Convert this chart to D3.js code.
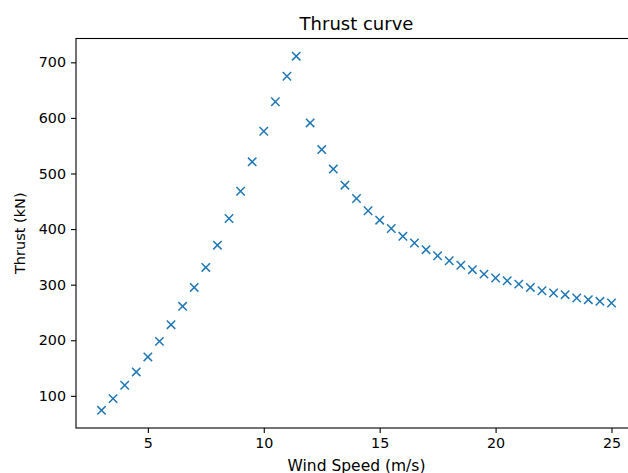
<!DOCTYPE html>
<html>
<head>
<meta charset="utf-8">
<script src="https://cdn.jsdelivr.net/npm/d3@7"></script>
<style>
  html, body { margin: 0; padding: 0; background: #fff; }
  svg { display: block; }
  text { font-family: "DejaVu Sans", sans-serif; fill: #000; }
</style>
</head>
<body>
<svg id="chart" width="628" height="473"></svg>
<script>
// Data
const windSpeed = [3, 3.5, 4, 4.5, 5, 5.5, 6, 6.5, 7, 7.5, 8, 8.5, 9, 9.5, 10, 10.5, 11, 11.4,
  12, 12.5, 13, 13.5, 14, 14.5, 15, 15.5, 16, 16.5, 17, 17.5, 18, 18.5, 19, 19.5, 20,
  20.5, 21, 21.5, 22, 22.5, 23, 23.5, 24, 24.5, 25];
const thrust = [74, 95, 119, 143, 170, 198, 228, 261, 295, 331, 371, 419, 468, 521, 576, 629, 675, 711,
  591, 543, 508, 479, 455, 433, 416, 401, 387, 375, 363, 352, 343, 335, 327, 319, 312,
  307, 301, 295, 289, 285, 282, 276, 273, 270, 267];
const xTicks = [5, 10, 15, 20, 25];
const yTicks = [100, 200, 300, 400, 500, 600, 700];
const titleText = "Thrust curve";
const xLabel = "Wind Speed (m/s)";
const yLabel = "Thrust (kN)";

const svg = d3.select("#chart");
const L = 76, R = 637, T = 38.5, B = 428;

const xMin = d3.min(windSpeed), xMax = d3.max(windSpeed);
const yMin = d3.min(thrust), yMax = d3.max(thrust);
const xPad = (xMax - xMin) * 0.05, yPad = (yMax - yMin) * 0.05;

const x = d3.scaleLinear().domain([xMin - xPad, xMax + xPad]).range([L, R]);
const y = d3.scaleLinear().domain([yMin - yPad, yMax + yPad]).range([B, T]);

const tickFont = "14.3px";

// X axis
const xAxis = svg.append("g").attr("transform", `translate(0,${B})`)
  .call(d3.axisBottom(x).tickValues(xTicks).tickSize(5).tickPadding(5).tickFormat(d3.format("d")));
xAxis.select(".domain").remove();
xAxis.selectAll("line").attr("stroke", "#000").attr("stroke-width", 1.1);
xAxis.selectAll("text").attr("font-size", tickFont).attr("font-family", "DejaVu Sans").attr("fill", "#000");

// Y axis
const yAxis = svg.append("g").attr("transform", `translate(${L},0)`)
  .call(d3.axisLeft(y).tickValues(yTicks).tickSize(5).tickPadding(5).tickFormat(d3.format("d")));
yAxis.select(".domain").remove();
yAxis.selectAll("line").attr("stroke", "#000").attr("stroke-width", 1.1);
yAxis.selectAll("text").attr("font-size", tickFont).attr("font-family", "DejaVu Sans").attr("fill", "#000");

// Markers
const pts = windSpeed.map((w, i) => ({ w, t: thrust[i] }));
const s = 4.2;
const g = svg.append("g");
g.selectAll("path.mk").data(pts).enter().append("path")
  .attr("class", "mk")
  .attr("d", d => {
    const cx = x(d.w), cy = y(d.t);
    return `M${cx - s},${cy - s}L${cx + s},${cy + s}M${cx - s},${cy + s}L${cx + s},${cy - s}`;
  })
  .attr("stroke", "#1f77b4").attr("stroke-width", 1.5).attr("fill", "none");

// Spines
svg.append("rect").attr("x", L).attr("y", T).attr("width", R - L).attr("height", B - T)
  .attr("fill", "none").attr("stroke", "#000").attr("stroke-width", 1.1);

// Title
svg.append("text").attr("x", (L + R) / 2).attr("y", 29.7).attr("text-anchor", "middle")
  .attr("font-size", "18px").text(titleText);

// Axis labels
svg.append("text").attr("x", (L + R) / 2).attr("y", 471.3).attr("text-anchor", "middle")
  .attr("font-size", "15.5px").text(xLabel);
svg.append("text").attr("transform", `translate(25,${(T + B) / 2}) rotate(-90)`)
  .attr("text-anchor", "middle").attr("font-size", "14.5px").text(yLabel);
</script>
</body>
</html>
